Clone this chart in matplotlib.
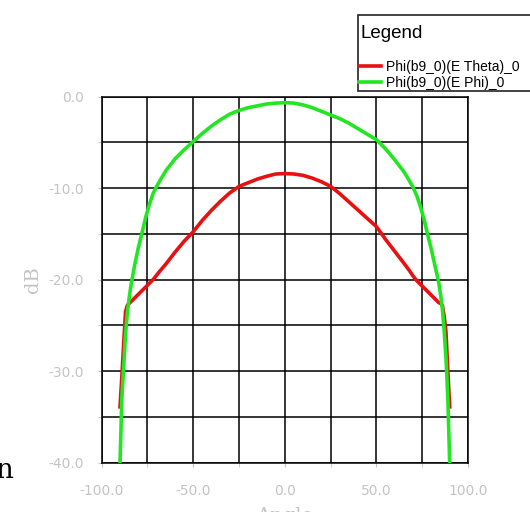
import matplotlib
matplotlib.use("Agg")
import matplotlib.pyplot as plt
from matplotlib.patches import Rectangle
from matplotlib.ticker import MultipleLocator, FormatStrFormatter

# ---- data ----
angle = [-90, -89, -88, -87, -86, -85, -84, -82, -80, -78, -76, -74, -72,
         -70, -68, -65, -60, -55, -50, -45, -40, -35, -30, -25, -20, -15,
         -10, -5,
         0, 5, 10, 15, 20, 25, 30, 35, 40, 45, 50, 55, 60, 65, 68, 70, 72,
         74, 76, 78, 80, 82, 84, 85, 86, 87, 88, 89, 90]

e_theta = [-33.9, -30.6, -27.0, -23.5, -22.8, -22.6, -22.4, -22.0, -21.6,
           -21.2, -20.8, -20.4, -20.0, -19.5, -19.0, -18.3, -17.0, -15.8,
           -14.75, -13.5, -12.4, -11.4, -10.5, -9.8, -9.4, -9.0, -8.7, -8.45,
           -8.4, -8.45, -8.6, -8.9, -9.3, -9.8, -10.6, -11.5, -12.4, -13.3,
           -14.2, -15.6, -16.9, -18.2, -19.0, -19.6, -20.1, -20.5, -20.9,
           -21.3, -21.7, -22.1, -22.5, -22.6, -22.8, -24.0, -25.8, -30.0,
           -33.9]

e_phi = [-40.0, -33.0, -29.5, -26.0, -23.6, -22.0, -20.6, -18.4, -16.5,
         -14.9, -13.2, -11.8, -10.6, -9.8, -9.1, -8.1, -6.8, -5.8, -4.9,
         -4.0, -3.2, -2.5, -1.9, -1.5, -1.2, -1.0, -0.8, -0.7,
         -0.65, -0.7, -0.9, -1.2, -1.6, -2.0, -2.4, -2.9, -3.5, -4.1, -4.7,
         -5.7, -6.9, -8.2, -9.2, -9.9, -10.8, -12.0, -13.4, -15.1, -16.7,
         -18.5, -20.3, -21.6, -23.2, -25.6, -28.6, -33.0, -40.0]

labels = ["Phi(b9_0)(E Theta)_0", "Phi(b9_0)(E Phi)_0"]

W, H = 530, 512
grey = "#c4c4c4"

fig = plt.figure(figsize=(W / 100, H / 100), dpi=100)
ax = fig.add_axes([101.7 / W, 1 - 462.7 / H, (468 - 101.7) / W, (462.7 - 96.7) / H])

l1, = ax.plot(angle, e_theta, color="#e81010", lw=2.6, zorder=3)
l2, = ax.plot(angle, e_phi, color="#22e622", lw=2.6, zorder=4)

ax.set_xlim(-100, 100)
ax.set_ylim(-40, 0)
ax.xaxis.set_major_locator(MultipleLocator(50))
ax.xaxis.set_minor_locator(MultipleLocator(25))
ax.yaxis.set_major_locator(MultipleLocator(10))
ax.yaxis.set_minor_locator(MultipleLocator(5))
ax.xaxis.set_major_formatter(FormatStrFormatter("%.1f"))
ax.yaxis.set_major_formatter(FormatStrFormatter("%.1f"))
ax.grid(which="both", color="black", lw=1.1)
for s in ax.spines.values():
    s.set_color("black")
    s.set_linewidth(1.1)
ax.tick_params(which="major", length=3, color=grey, labelcolor=grey,
               labelsize=10)
ax.tick_params(axis="x", which="major", pad=12)
ax.tick_params(axis="y", which="major", pad=10)
ax.tick_params(which="minor", length=3, color=grey)

ax.set_ylabel("dB", family="DejaVu Serif", color=grey, fontsize=14,
              labelpad=4)
ax.set_xlabel("Angle", family="DejaVu Serif", color=grey, fontsize=14,
              labelpad=7)

fig.text(13 / W, 1 - 478 / H, "n", family="DejaVu Serif", fontsize=20,
         ha="right", va="baseline")

# ---- legend box ----
fig.patches.append(Rectangle((358 / W, 1 - 91 / H), (W - 358 + 20) / W,
                             (91 - 15) / H, transform=fig.transFigure,
                             facecolor="white", edgecolor="#222222", lw=1.2,
                             zorder=5))
fig.text(361 / W, 1 - 33 / H, "Legend", family="Liberation Sans",
         fontsize=13.5, va="center", zorder=6)
leg = fig.legend([l1, l2], labels, loc="upper left",
                 bbox_to_anchor=(359 / W, 1 - 60 / H), frameon=False,
                 borderpad=0, borderaxespad=0, handlelength=1.6,
                 handletextpad=0.35, labelspacing=0.15,
                 prop={"family": "Liberation Sans", "size": 10})
leg.set_zorder(7)

fig.savefig("out.png", dpi=100)
